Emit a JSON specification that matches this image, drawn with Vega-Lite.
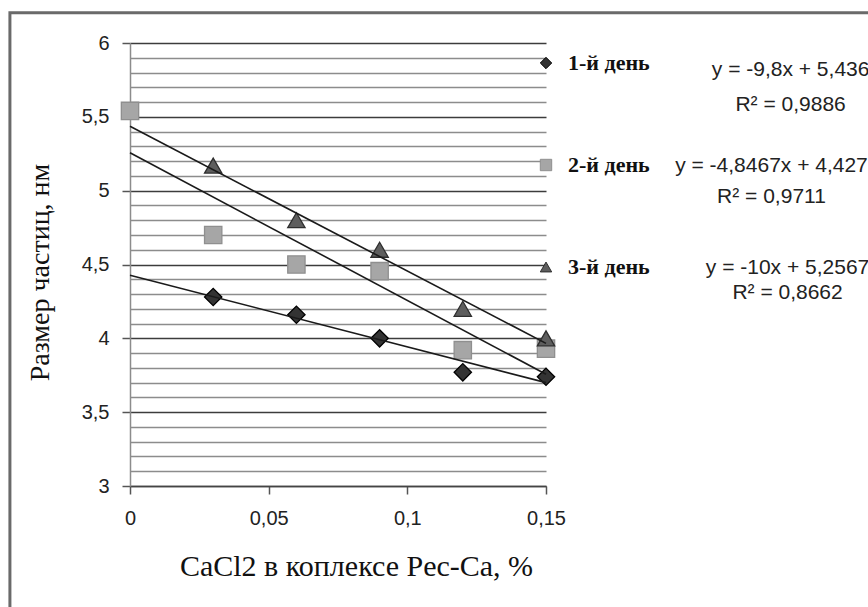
{
  "$schema": "https://vega.github.io/schema/vega-lite/v6.json",
  "width": 416,
  "height": 443,
  "autosize": {"type": "none"},
  "padding": {"left": 130, "top": 43, "right": 322, "bottom": 121},
  "background": "white",
  "config": {"view": {"stroke": null}},
  "datasets": {
    "frame": [{"x0": -0.0433, "x1": 0.4, "y0": 6.205, "y1": 1.8}],
    "points": [
      {"series": "1-й день", "x": 0.03, "y": 4.28},
      {"series": "1-й день", "x": 0.06, "y": 4.16},
      {"series": "1-й день", "x": 0.09, "y": 4.0},
      {"series": "1-й день", "x": 0.12, "y": 3.77},
      {"series": "1-й день", "x": 0.15, "y": 3.74},
      {"series": "2-й день", "x": 0.0, "y": 5.54},
      {"series": "2-й день", "x": 0.03, "y": 4.7},
      {"series": "2-й день", "x": 0.06, "y": 4.5},
      {"series": "2-й день", "x": 0.09, "y": 4.455},
      {"series": "2-й день", "x": 0.12, "y": 3.92},
      {"series": "2-й день", "x": 0.15, "y": 3.93},
      {"series": "3-й день", "x": 0.03, "y": 5.17},
      {"series": "3-й день", "x": 0.06, "y": 4.8},
      {"series": "3-й день", "x": 0.09, "y": 4.6},
      {"series": "3-й день", "x": 0.12, "y": 4.2},
      {"series": "3-й день", "x": 0.15, "y": 4.0}
    ],
    "trends": [
      {"trend": "A", "x": 0.0, "y": 5.436},
      {"trend": "A", "x": 0.15, "y": 3.966},
      {"trend": "B", "x": 0.0, "y": 5.2567},
      {"trend": "B", "x": 0.15, "y": 3.7567},
      {"trend": "C", "x": 0.0, "y": 4.427},
      {"trend": "C", "x": 0.15, "y": 3.7}
    ],
    "notes": [
      {"text": "y = -9,8x + 5,436", "x": 0.2382, "y": 5.819},
      {"text": "R² = 0,9886", "x": 0.2382, "y": 5.582},
      {"text": "y = -4,8467x + 4,427", "x": 0.2313, "y": 5.164},
      {"text": "R² = 0,9711", "x": 0.2313, "y": 4.96},
      {"text": "y = -10x + 5,2567", "x": 0.2371, "y": 4.475},
      {"text": "R² = 0,8662", "x": 0.2371, "y": 4.306}
    ]
  },
  "layer": [
    {
      "data": {"name": "points"},
      "mark": {"type": "point", "filled": true, "opacity": 1, "strokeWidth": 1.3, "size": 300},
      "encoding": {
        "x": {
          "field": "x", "type": "quantitative",
          "scale": {"domain": [0, 0.15], "nice": false, "zero": false},
          "axis": {
            "title": "CaCl2 в коплексе Pec-Ca, %",
            "values": [0, 0.05, 0.1, 0.15],
            "tickCount": 100,
            "format": "~g",
            "labelExpr": "replace(datum.label, '.', ',')",
            "grid": false,
            "domainColor": "#444444",
            "domainWidth": 1.5,
            "tickColor": "#555555",
            "tickSize": 8,
            "tickWidth": 1.5,
            "labelFont": "Liberation Sans",
            "labelFontSize": 20,
            "labelColor": "#222222",
            "labelPadding": 14,
            "labelFlush": false,
            "titleFont": "Liberation Serif",
            "titleFontSize": 30,
            "titleFontWeight": "normal",
            "titleColor": "#111111",
            "titleX": 226,
            "titleY": 80,
            "titleBaseline": "middle",
            "titleAlign": "center"
          }
        },
        "y": {
          "field": "y", "type": "quantitative",
          "scale": {"domain": [3, 6], "nice": false, "zero": false},
          "axis": {
            "title": "Размер частиц, нм",
            "values": [3, 3.1, 3.2, 3.3, 3.4, 3.5, 3.6, 3.7, 3.8, 3.9, 4, 4.1, 4.2, 4.3, 4.4, 4.5, 4.6, 4.7, 4.8, 4.9, 5, 5.1, 5.2, 5.3, 5.4, 5.5, 5.6, 5.7, 5.8, 5.9, 6],
            "tickCount": 100,
            "format": "~g",
            "labelExpr": "round(datum.value * 10) % 5 === 0 ? replace(datum.label, '.', ',') : ''",
            "labelOverlap": false,
            "grid": true,
            "gridColor": {"condition": {"test": "round(datum.value * 10) % 5 === 0", "value": "#3c3c3c"}, "value": "#8c8c8c"},
            "gridWidth": 1.5,
            "tickOpacity": {"condition": {"test": "round(datum.value * 10) % 5 === 0", "value": 1}, "value": 0},
            "tickColor": "#555555",
            "tickSize": 8,
            "tickWidth": 1.5,
            "domainColor": "#8c8c8c",
            "domainWidth": 1.5,
            "labelFont": "Liberation Sans",
            "labelFontSize": 20,
            "labelColor": "#222222",
            "labelPadding": 13,
            "labelFlush": false,
            "titleFont": "Liberation Serif",
            "titleFontSize": 28,
            "titleFontWeight": "normal",
            "titleColor": "#111111",
            "titleAngle": 270,
            "titleX": -90,
            "titleY": 229,
            "titleAlign": "center",
            "titleBaseline": "middle"
          }
        },
        "shape": {
          "field": "series", "type": "nominal",
          "scale": {"domain": ["1-й день", "2-й день", "3-й день"], "range": ["diamond", "square", "triangle-up"]},
          "legend": {"orient": "none", "legendX": 405, "legendY": 9, "title": null, "padding": 0, "rowPadding": 80, "labelFont": "Liberation Serif", "labelFontSize": 22, "labelFontWeight": "bold", "labelColor": "#111111", "labelOffset": 11, "symbolSize": 130, "symbolStrokeWidth": 1}
        },
        "fill": {
          "field": "series", "type": "nominal",
          "scale": {"domain": ["1-й день", "2-й день", "3-й день"], "range": ["#333333", "#a6a6a6", "#5e5e5e"]},
          "legend": {"orient": "none", "legendX": 405, "legendY": 9, "title": null, "padding": 0, "rowPadding": 80, "labelFont": "Liberation Serif", "labelFontSize": 22, "labelFontWeight": "bold", "labelColor": "#111111", "labelOffset": 11, "symbolSize": 130, "symbolStrokeWidth": 1}
        },
        "stroke": {
          "field": "series", "type": "nominal",
          "scale": {"domain": ["1-й день", "2-й день", "3-й день"], "range": ["#000000", "#8f8f8f", "#2e2e2e"]},
          "legend": {"orient": "none", "legendX": 405, "legendY": 9, "title": null, "padding": 0, "rowPadding": 80, "labelFont": "Liberation Serif", "labelFontSize": 22, "labelFontWeight": "bold", "labelColor": "#111111", "labelOffset": 11, "symbolSize": 130, "symbolStrokeWidth": 1}
        }
      }
    },
    {
      "data": {"name": "frame"},
      "mark": {"type": "rect", "fill": null, "fillOpacity": 0, "stroke": "#6a6a6a", "strokeWidth": 3},
      "encoding": {
        "x": {"field": "x0", "type": "quantitative", "scale": {"domain": [0, 0.15], "nice": false, "zero": false}},
        "x2": {"field": "x1"},
        "y": {"field": "y0", "type": "quantitative", "scale": {"domain": [3, 6], "nice": false, "zero": false}},
        "y2": {"field": "y1"}
      }
    },
    {
      "data": {"name": "trends"},
      "mark": {"type": "line", "strokeWidth": 1.6, "color": "#1a1a1a"},
      "encoding": {
        "x": {"field": "x", "type": "quantitative", "scale": {"domain": [0, 0.15], "nice": false, "zero": false}},
        "y": {"field": "y", "type": "quantitative", "scale": {"domain": [3, 6], "nice": false, "zero": false}},
        "detail": {"field": "trend", "type": "nominal"}
      }
    },
    {
      "data": {"name": "notes"},
      "mark": {"type": "text", "font": "Liberation Sans", "fontSize": 21, "color": "#222222", "align": "center", "baseline": "middle"},
      "encoding": {
        "x": {"field": "x", "type": "quantitative", "scale": {"domain": [0, 0.15], "nice": false, "zero": false}},
        "y": {"field": "y", "type": "quantitative", "scale": {"domain": [3, 6], "nice": false, "zero": false}},
        "text": {"field": "text", "type": "nominal"}
      }
    }
  ]
}
